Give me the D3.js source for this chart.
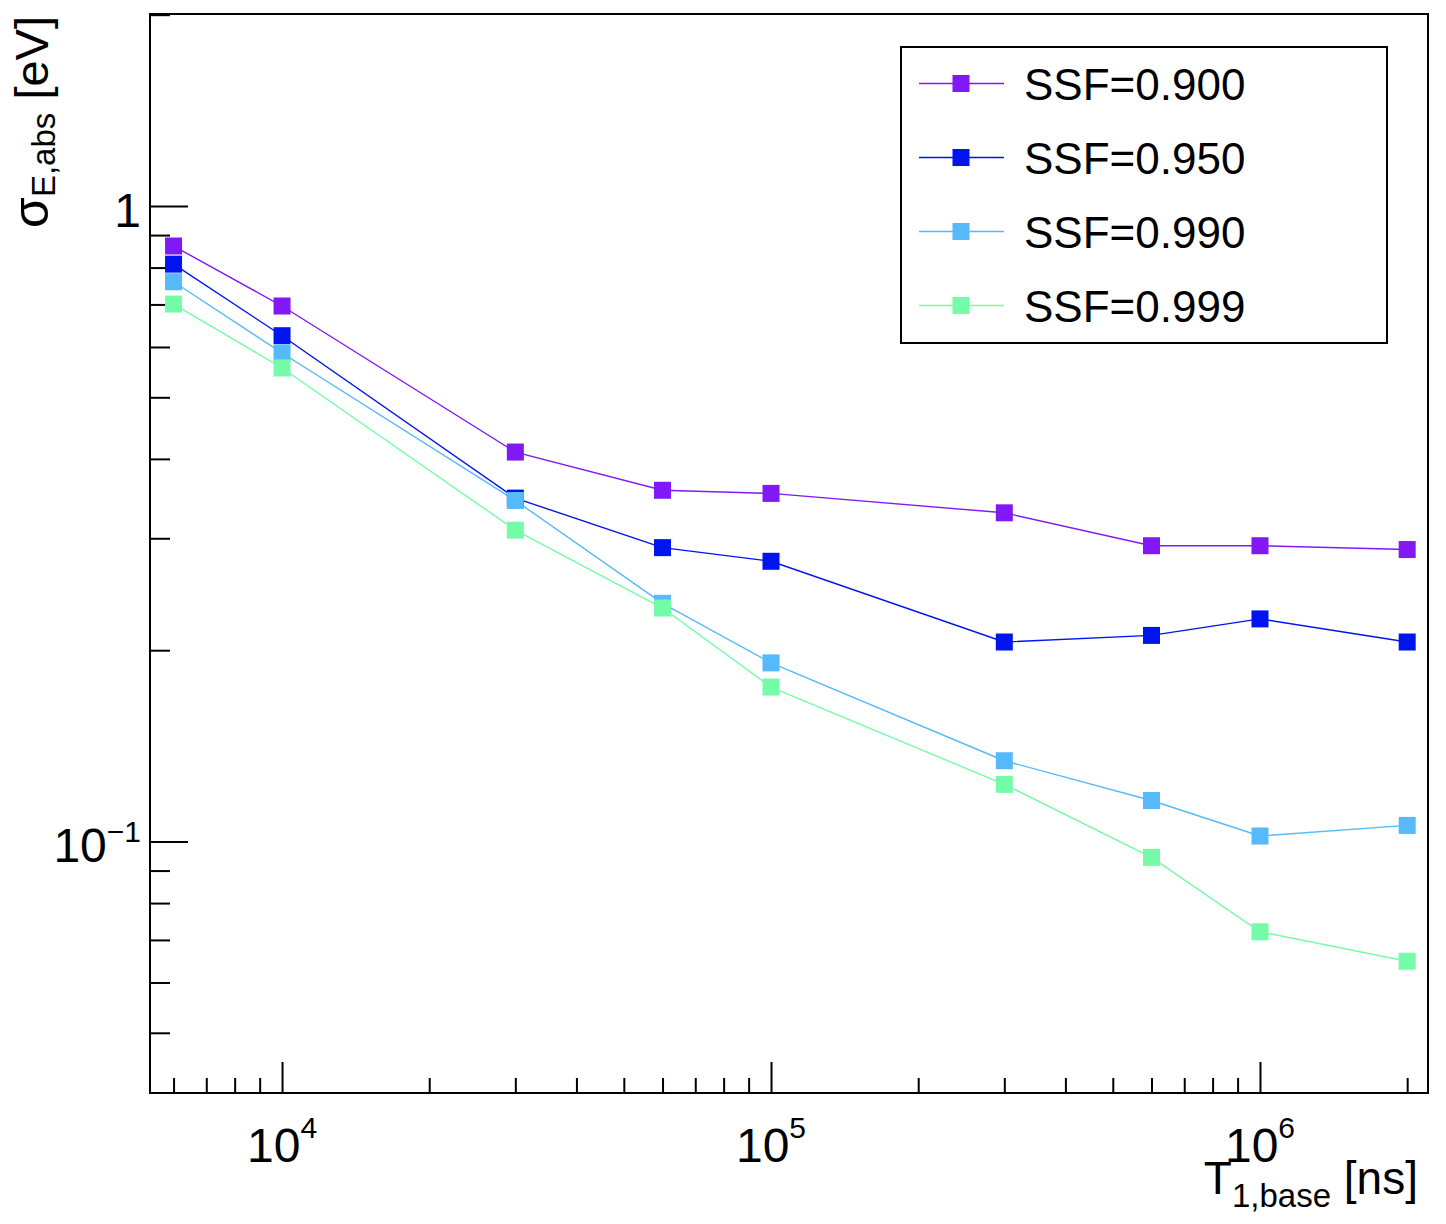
<!DOCTYPE html>
<html>
<head>
<meta charset="utf-8">
<script src="https://cdn.jsdelivr.net/npm/d3@7"></script>
<style>
  body { margin: 0; background: #fff; }
  text { font-family: "Liberation Sans", Arial, Helvetica, sans-serif; fill: #000; }
</style>
</head>
<body>
<svg id="chart" width="1446" height="1224"></svg>
<script>
// -- data -- //
const t1Base = [6000, 1e4, 3e4, 6e4, 1e5, 3e5, 6e5, 1e6, 2e6];
const ssfLabels = ['SSF=0.900', 'SSF=0.950', 'SSF=0.990', 'SSF=0.999'];
const ssfColors = ['#8019f5', '#0014f0', '#55b9fa', '#75fca8'];
const sigma900 = [0.865, 0.696, 0.410, 0.357, 0.353, 0.329, 0.292, 0.292, 0.288];
const sigma950 = [0.810, 0.625, 0.347, 0.290, 0.276, 0.206, 0.211, 0.224, 0.206];
const sigma990 = [0.760, 0.587, 0.344, 0.237, 0.191, 0.134, 0.116, 0.102, 0.106];
const sigma999 = [0.701, 0.556, 0.309, 0.233, 0.175, 0.123, 0.0944, 0.0721, 0.0648];
const xMajorExp = [4, 5, 6];
const yMajor = [{v: 1, base: '1', exp: null}, {v: 0.1, base: '10', exp: '\u22121'}];

const series = [sigma900, sigma950, sigma990, sigma999].map((vals, i) => ({
    label: ssfLabels[i],
    color: ssfColors[i],
    points: vals.map((v, j) => ({x: t1Base[j], y: v}))
}));

const svg = d3.select('#chart');
const frameL = 150, frameR = 1428, frameT = 14, frameB = 1093;

const xScale = d3.scaleLog().domain([5370, 2.206e6]).range([frameL, frameR]);
const yScale = d3.scaleLog().domain([0.0402, 2.005]).range([frameB, frameT]);

// minor ticks: 2..9 in every decade that falls inside the domain
const minorTicks = (scale, lo, hi) => {
    const out = [];
    const [d0, d1] = scale.domain();
    for (let e = lo; e <= hi; e++) {
        for (let m = 2; m <= 9; m++) {
            const v = m * Math.pow(10, e);
            if (v > d0 && v < d1) out.push(v);
        }
    }
    return out;
};

// -- axes (ROOT style, ticks pointing inwards) -- //
const xAxisG = svg.append('g').attr('transform', `translate(0,${frameB})`);
xAxisG.append('g')
    .call(d3.axisBottom(xScale).tickValues(xMajorExp.map(e => Math.pow(10, e))).tickSize(-31).tickFormat(''));
xAxisG.append('g')
    .call(d3.axisBottom(xScale).tickValues(minorTicks(xScale, 3, 6)).tickSize(-15).tickFormat(''));

const yAxisG = svg.append('g').attr('transform', `translate(${frameL},0)`);
yAxisG.append('g')
    .call(d3.axisLeft(yScale).tickValues(yMajor.map(d => d.v)).tickSize(-38).tickFormat(''));
yAxisG.append('g')
    .call(d3.axisLeft(yScale).tickValues(minorTicks(yScale, -2, 0)).tickSize(-20).tickFormat(''));

svg.selectAll('.domain').remove();
svg.selectAll('.tick line').attr('stroke', '#000').attr('stroke-width', 2);

// frame
svg.append('rect')
    .attr('x', frameL).attr('y', frameT)
    .attr('width', frameR - frameL).attr('height', frameB - frameT)
    .attr('fill', 'none').attr('stroke', '#000').attr('stroke-width', 2);

// x tick labels 10^n
xMajorExp.forEach(e => {
    const t = svg.append('text')
        .attr('x', xScale(Math.pow(10, e)))
        .attr('y', 1162)
        .attr('text-anchor', 'middle')
        .style('font-size', '48px');
    t.append('tspan').text('10');
    t.append('tspan').attr('dy', -24).style('font-size', '30px').text(e);
});

// y tick labels
yMajor.forEach(d => {
    const t = svg.append('text')
        .attr('x', 141)
        .attr('y', yScale(d.v) + 21)
        .attr('text-anchor', 'end')
        .style('font-size', '48px');
    t.append('tspan').text(d.base);
    if (d.exp) t.append('tspan').attr('dy', -20).style('font-size', '30px').text(d.exp);
});

// axis titles
const xTitle = svg.append('text')
    .attr('x', 1418).attr('y', 1194)
    .attr('text-anchor', 'end')
    .style('font-size', '46px');
xTitle.append('tspan').text('T');
xTitle.append('tspan').attr('dy', 13).style('font-size', '33px').text('1,base');
xTitle.append('tspan').attr('dy', -13).text(' [ns]');

const yTitle = svg.append('text')
    .attr('transform', 'translate(48,16) rotate(-90)')
    .attr('text-anchor', 'end')
    .style('font-size', '47px');
yTitle.append('tspan').style('font-size', '50px').text('\u03c3');
yTitle.append('tspan').attr('dy', 7).style('font-size', '33px').text('E,abs');
yTitle.append('tspan').attr('dy', -7).text(' [eV]');

// -- lines and markers -- //
const line = d3.line().x(d => xScale(d.x)).y(d => yScale(d.y));
const plotLayer = svg.append('g');

series.forEach(s => {
    plotLayer.append('path')
        .datum(s.points)
        .attr('d', line)
        .attr('fill', 'none')
        .attr('stroke', s.color)
        .attr('stroke-width', 1.4);
});
series.forEach(s => {
    plotLayer.selectAll(null)
        .data(s.points)
        .enter().append('rect')
        .attr('x', d => xScale(d.x) - 8.5)
        .attr('y', d => yScale(d.y) - 8.5)
        .attr('width', 17).attr('height', 17)
        .attr('fill', s.color);
});

// -- legend -- //
const legend = svg.append('g');
legend.append('rect')
    .attr('x', 901).attr('y', 47).attr('width', 486).attr('height', 296)
    .attr('fill', '#fff').attr('stroke', '#000').attr('stroke-width', 2);

const rows = legend.selectAll('.entry')
    .data(series)
    .enter().append('g')
    .attr('class', 'entry')
    .attr('transform', (d, i) => `translate(0,${83.5 + i * 74})`);
rows.append('line')
    .attr('x1', 919).attr('x2', 1004)
    .attr('stroke', d => d.color).attr('stroke-width', 1.6);
rows.append('rect')
    .attr('x', 961 - 8.5).attr('y', -8.5).attr('width', 17).attr('height', 17)
    .attr('fill', d => d.color);
rows.append('text')
    .attr('x', 1024).attr('y', 16)
    .style('font-size', '44px')
    .text(d => d.label);
</script>
</body>
</html>
